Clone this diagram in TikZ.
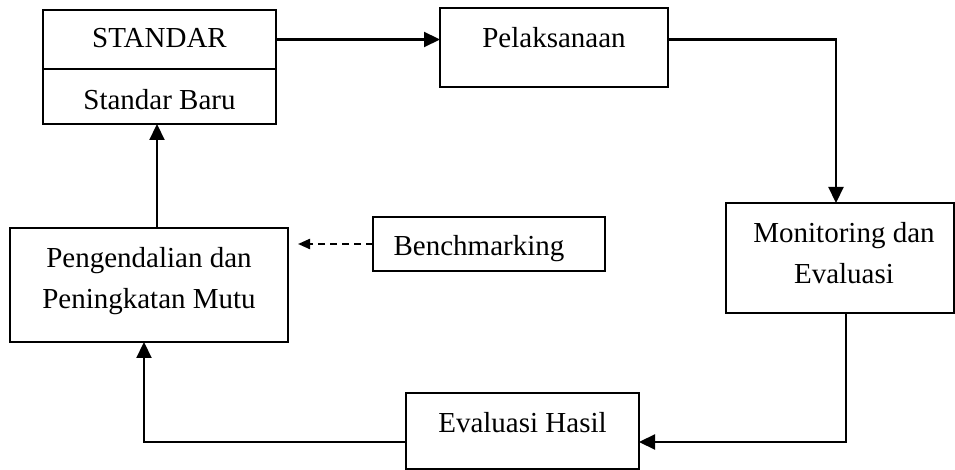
\documentclass[tikz,border=0pt]{standalone}
\usepackage{fontspec}
\setmainfont{Liberation Serif}
\usepackage{tikz}
\usetikzlibrary{calc, positioning}
\usetikzlibrary{arrows.meta}
\tikzset{>={Triangle[width=7.5pt,length=8pt]}}

\begin{document}
\begin{tikzpicture}[
    x = 0.5pt, y = -0.5pt,
    node distance = 0mm,
    box/.style = {draw, line width=0.8pt, inner sep=0pt, outer sep=0pt},
    txt/.style = {inner sep=0pt, align=center, anchor=north,
        font=\fontsize{14.5}{20.5}\selectfont},
    arr/.style = {->, line width=1.1pt},
    dasharr/.style = {-{Triangle[width=5pt,length=6pt]}, line width=1.1pt,
        dash pattern=on 3.5pt off 2.5pt}
  ]
  \useasboundingbox (0,0) rectangle (955,470);

  % kotak
  \node[box, minimum width=116.5pt, minimum height=29.5pt] (std) at (159.5,39.5) {};
  \node[box, minimum width=116.5pt, minimum height=27.5pt, below=of std] (baru) {};
  \node[box, minimum width=114pt, minimum height=39.5pt] (pel) at (554,47.5) {};
  \node[box, minimum width=114pt, minimum height=55pt] (mon) at (840,258) {};
  \node[box, minimum width=116.5pt, minimum height=38pt] (eval) at (522.5,431) {};
  \node[box, minimum width=139pt, minimum height=57pt] (peng) at (149,285) {};
  \node[box, minimum width=116pt, minimum height=27pt] (bench) at (489,244) {};

  % teks
  \node[txt, below=9pt of std.north] (std-t) {STANDAR};
  \node[txt, below=10pt of baru.north] (baru-t) {Standar Baru};
  \node[txt, below=9.5pt of pel.north] (pel-t) {Pelaksanaan};
  \node[txt, below=9.5pt of mon.north, xshift=2pt] (mon-t) {Monitoring dan\\Evaluasi};
  \node[txt, below=9.5pt of eval.north] (eval-t) {Evaluasi Hasil};
  \node[txt, below=9.5pt of peng.north] (peng-t) {Pengendalian dan\\Peningkatan Mutu};
  \node[txt, below=9pt of bench.north, xshift=-5pt] (bench-t) {Benchmarking};

  % panah
  \draw[arr] (std.east) -- (std.east -| pel.west);
  \draw[arr] (std.east -| pel.east) -| ($(mon.north)+(-4,0)$);
  \draw[arr] ($(mon.south)+(6,0)$) |- ($(eval.east)+(0,11)$);
  \draw[arr] ($(eval.west)+(0,11)$) -| ($(peng.south)+(-5,0)$);
  \draw[arr] ($(peng.north)+(8,0)$) -- ($(baru.south)+(-2.5,0)$);
  \draw[dasharr] (bench.west) -- ($(bench.west -| peng.east)+(10,0)$);
\end{tikzpicture}
\end{document}
